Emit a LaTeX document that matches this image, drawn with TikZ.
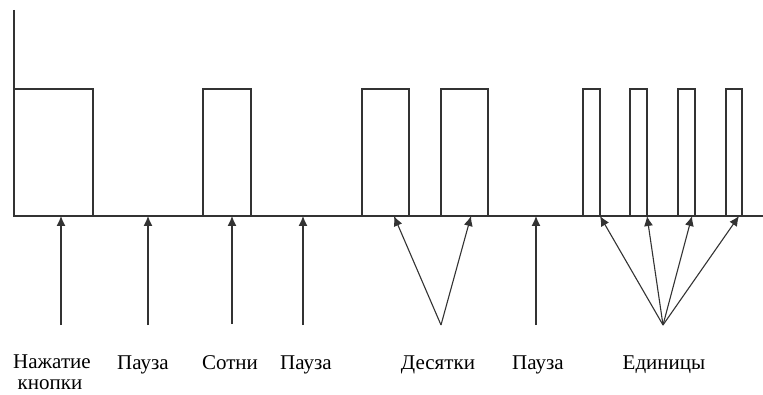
\documentclass[tikz,border=0pt]{standalone}
\usepackage{fontspec}
\setmainfont{Liberation Serif}
\usetikzlibrary{arrows.meta}
\begin{document}
\begin{tikzpicture}[x=1pt,y=1pt,
  sig/.style={draw=black!80, line width=1.3pt},
  ptr/.style={draw=black!80, line width=1.1pt, -{Latex[length=10pt,width=9pt]}},
  lbl/.style={font=\fontsize{21}{22}\selectfont, text=black, inner sep=0pt, anchor=base}]
\useasboundingbox (0,0) rectangle (763,394);
% signal
\draw[sig] (14,384) -- (14,178) -- (763,178);
\draw[sig] (14,305) -- (93,305) -- (93,178);
\draw[sig] (203,178) -- (203,305) -- (251,305) -- (251,178);
\draw[sig] (362,178) -- (362,305) -- (409,305) -- (409,178);
\draw[sig] (441,178) -- (441,305) -- (488,305) -- (488,178);
\draw[sig] (583,178) -- (583,305) -- (600,305) -- (600,178);
\draw[sig] (630,178) -- (630,305) -- (647,305) -- (647,178);
\draw[sig] (678,178) -- (678,305) -- (695,305) -- (695,178);
\draw[sig] (726,178) -- (726,305) -- (742,305) -- (742,178);
% arrow targets
\coordinate (t1) at (61,178);
\coordinate (t2) at (148,178);
\coordinate (t3) at (232,178);
\coordinate (t4) at (303,178);
\coordinate (t5) at (394,178);
\coordinate (t6) at (471,178);
\coordinate (t7) at (536,178);
\coordinate (t8) at (600,178);
\coordinate (t9) at (647,178);
\coordinate (t10) at (692,178);
\coordinate (t11) at (739,178);
% arrow sources
\coordinate (s1) at (61,69);
\coordinate (s2) at (148,69);
\coordinate (s3) at (232,70);
\coordinate (s4) at (303,69);
\coordinate (s5) at (441,69);
\coordinate (s7) at (536,69);
\coordinate (s8) at (663,69);
\draw[ptr] (s1) -- (t1);
\draw[ptr] (s2) -- (t2);
\draw[ptr] (s3) -- (t3);
\draw[ptr] (s4) -- (t4);
\draw[ptr] (s5) -- (t5);
\draw[ptr] (s5) -- (t6);
\draw[ptr] (s7) -- (t7);
\draw[ptr] (s8) -- (t8);
\draw[ptr] (s8) -- (t9);
\draw[ptr] (s8) -- (t10);
\draw[ptr] (s8) -- (t11);
% labels
\node[lbl] (l1) at (52,26) {Нажатие};
\node[lbl] (l1b) at (50,5) {кнопки};
\node[lbl] (l2) at (143,25) {Пауза};
\node[lbl] (l3) at (230,25) {Сотни};
\node[lbl] (l4) at (306,25) {Пауза};
\node[lbl] (l5) at (438,25) {Десятки};
\node[lbl] (l6) at (538,25) {Пауза};
\node[lbl] (l7) at (664,25) {Единицы};
\end{tikzpicture}
\end{document}
